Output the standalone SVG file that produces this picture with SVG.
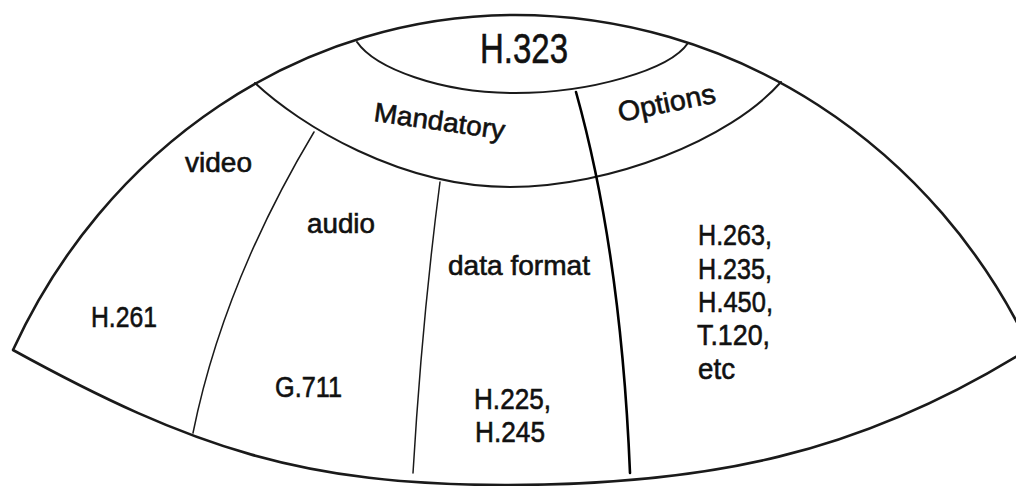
<svg xmlns="http://www.w3.org/2000/svg" width="1016" height="486" viewBox="0 0 1016 486">
  <style>
    .edge { fill: none; stroke: #1a1a1a; stroke-linecap: round; stroke-linejoin: round; }
    .outer { stroke-width: 2.6; }
    .ring { stroke-width: 2; }
    .thin { stroke-width: 1.5; }
    .bold { stroke-width: 2.6; stroke: #000; }
    .lbl { font-family: "Liberation Sans", Arial, sans-serif; fill: #111; stroke: #111; stroke-width: 0.6; }
    .s27 { font-size: 27px; }
    .s28 { font-size: 28px; }
    .s30 { font-size: 30px; }
  </style>
  <rect width="1016" height="486" fill="#fff"/>

  <!-- dome outline and its dividing lines -->
  <g id="connectors">
    <path id="dome" class="edge outer" d="M13,350 A560,600 0 0 1 515,15 A575,600 0 0 1 1030,348 C860,455 705,485 505,485 C305,485 193,449 13,350 Z"/>
    <path id="h323-edge" class="edge ring" d="M357,42 C375,68 440,93 515,93 C590,93 670,70 688,43"/>
    <path id="ring-edge" class="edge ring" d="M255,83 C300,125 400,187 510,187 C610,187 730,140 781,82"/>
    <path id="video-audio" class="edge thin" d="M314,132 Q223,284 193,433"/>
    <path id="audio-data" class="edge thin" d="M440,182 Q422,320 413,473"/>
    <path id="mandatory-options" class="edge bold" d="M576,92 Q621,253 630,473"/>
  </g>

  <g id="h323">
    <text class="lbl" x="480" y="63" font-size="43" stroke-width="1" textLength="88" lengthAdjust="spacingAndGlyphs">H.323</text>
  </g>

  <g id="mandatory">
    <text class="lbl s27" transform="translate(373,121) rotate(8)" textLength="132" lengthAdjust="spacingAndGlyphs">Mandatory</text>
  </g>

  <g id="options">
    <text class="lbl s28" transform="translate(620,122) rotate(-11.5)" textLength="99" lengthAdjust="spacingAndGlyphs">Options</text>
  </g>

  <g id="video">
    <text class="lbl s27" x="185" y="172" textLength="67" lengthAdjust="spacingAndGlyphs">video</text>
    <text class="lbl s30" x="91" y="327" textLength="66" lengthAdjust="spacingAndGlyphs">H.261</text>
  </g>

  <g id="audio">
    <text class="lbl s27" x="307" y="233" textLength="68" lengthAdjust="spacingAndGlyphs">audio</text>
    <text class="lbl s30" x="275" y="397" textLength="67" lengthAdjust="spacingAndGlyphs">G.711</text>
  </g>

  <g id="data-format">
    <text class="lbl s28" x="448" y="275" textLength="142" lengthAdjust="spacingAndGlyphs">data format</text>
    <text class="lbl s30" x="474" y="409" textLength="77" lengthAdjust="spacingAndGlyphs">H.225,</text>
    <text class="lbl s30" x="475" y="442" textLength="70" lengthAdjust="spacingAndGlyphs">H.245</text>
  </g>

  <g id="option-list">
    <text class="lbl s30" x="698" y="245" textLength="74" lengthAdjust="spacingAndGlyphs">H.263,</text>
    <text class="lbl s30" x="698" y="279" textLength="74" lengthAdjust="spacingAndGlyphs">H.235,</text>
    <text class="lbl s30" x="698" y="312" textLength="75" lengthAdjust="spacingAndGlyphs">H.450,</text>
    <text class="lbl s30" x="697" y="345" textLength="73" lengthAdjust="spacingAndGlyphs">T.120,</text>
    <text class="lbl s30" x="698" y="379" textLength="37" lengthAdjust="spacingAndGlyphs">etc</text>
  </g>
</svg>
